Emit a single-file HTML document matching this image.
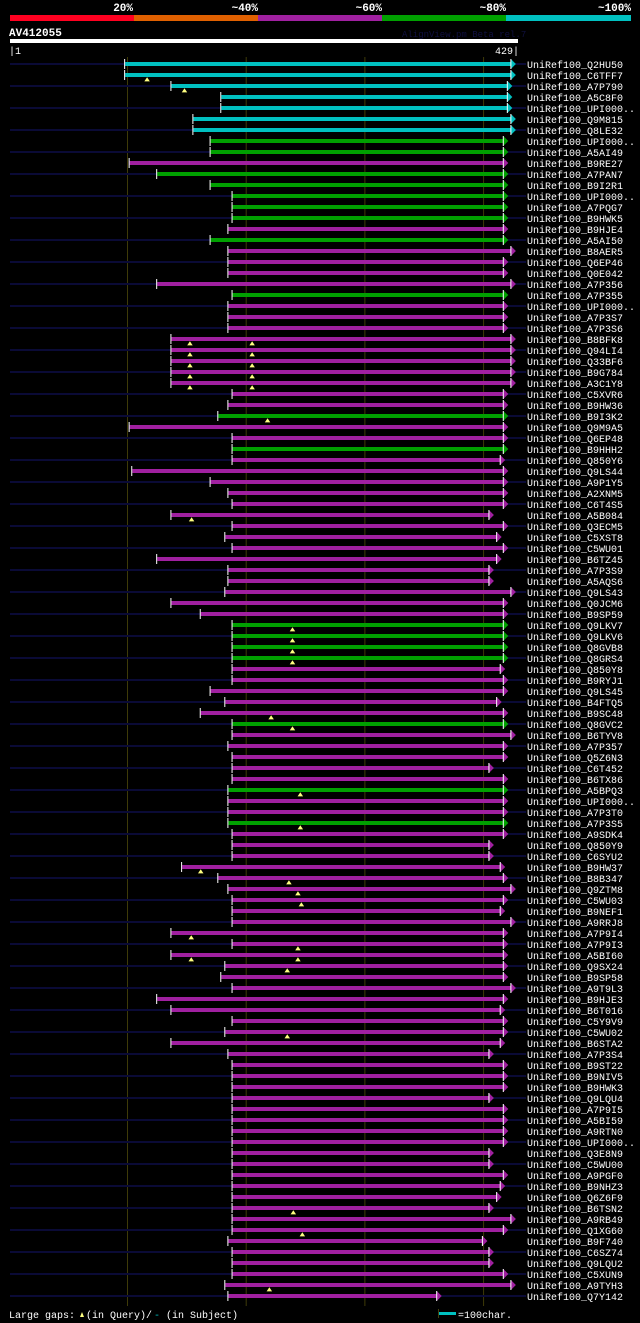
<!DOCTYPE html>
<html><head><meta charset="utf-8"><style>
html,body{margin:0;padding:0;background:#000;}
svg{display:block;}
text{font-family:"Liberation Mono","DejaVu Sans Mono",monospace;}
</style></head><body>
<svg id="chart" width="640" height="1323" viewBox="0 0 640 1323" xmlns="http://www.w3.org/2000/svg">
<rect x="0" y="0" width="640" height="1323" fill="#000"/>
<g>
<rect x="10" y="15" width="124" height="6" fill="#ff0020"/>
<rect x="134" y="15" width="124" height="6" fill="#e06000"/>
<rect x="258" y="15" width="124" height="6" fill="#a020a0"/>
<rect x="382" y="15" width="124" height="6" fill="#00a000"/>
<rect x="506" y="15" width="125" height="6" fill="#00c0c0"/>
<text x="133" y="11" fill="#fff" font-size="11" font-weight="bold" text-anchor="end">20%</text>
<text x="258" y="11" fill="#fff" font-size="11" font-weight="bold" text-anchor="end">~40%</text>
<text x="382" y="11" fill="#fff" font-size="11" font-weight="bold" text-anchor="end">~60%</text>
<text x="506" y="11" fill="#fff" font-size="11" font-weight="bold" text-anchor="end">~80%</text>
<text x="631" y="11" fill="#fff" font-size="11" font-weight="bold" text-anchor="end">~100%</text>
</g>
<text x="9" y="36" fill="#fff" font-size="11" font-weight="bold">AV412055</text>
<text x="402" y="37" fill="#101040" font-size="9">AlignView.pm Beta rel.7</text>
<rect x="10" y="39" width="508" height="4" fill="#fff"/>
<text x="9" y="54" fill="#fff" font-size="10">|1</text>
<text x="519" y="54" fill="#fff" font-size="10" text-anchor="end">429|</text>
<g id="grid"></g>
<g id="rows"></g>
<g>
<text x="9" y="1318" fill="#fff" font-size="10">Large gaps:</text>
<polygon points="80,1317 82,1312 84,1317" fill="#ffff80"/>
<text x="86" y="1318" fill="#fff" font-size="10">(in Query)/</text>
<text x="154" y="1318" fill="#00c0c0" font-size="10">-</text>
<text x="166" y="1318" fill="#fff" font-size="10">(in Subject)</text>
<rect x="439" y="1312" width="17" height="3" fill="#00c0c0"/>
<rect x="438" y="1309" width="1" height="9" fill="#404010"/>
<text x="458" y="1318" fill="#fff" font-size="10">=100char.</text>
</g>
</svg>
<script>
const names = ["Q2HU50","C6TFF7","A7P790","A5C8F0","UPI000..","Q9M815","Q8LE32","UPI000..","A5AI49","B9RE27","A7PAN7","B9I2R1","UPI000..","A7PQG7","B9HWK5","B9HJE4","A5AI50","B8AER5","Q6EP46","Q0E042","A7P356","A7P355","UPI000..","A7P3S7","A7P3S6","B8BFK8","Q94LI4","Q33BF6","B9G784","A3C1Y8","C5XVR6","B9HW36","B9I3K2","Q9M9A5","Q6EP48","B9HHH2","Q850Y6","Q9LS44","A9P1Y5","A2XNM5","C6T4S5","A5B084","Q3ECM5","C5XST8","C5WU01","B6TZ45","A7P3S9","A5AQS6","Q9LS43","Q0JCM6","B9SP59","Q9LKV7","Q9LKV6","Q8GVB8","Q8GRS4","Q850Y8","B9RYJ1","Q9LS45","B4FTQ5","B9SC48","Q8GVC2","B6TYV8","A7P357","Q5Z6N3","C6T452","B6TX86","A5BPQ3","UPI000..","A7P3T0","A7P3S5","A9SDK4","Q850Y9","C6SYU2","B9HW37","B8B347","Q9ZTM8","C5WU03","B9NEF1","A9RRJ8","A7P9I4","A7P9I3","A5BI60","Q9SX24","B9SP58","A9T9L3","B9HJE3","B6T016","C5Y9V9","C5WU02","B6STA2","A7P3S4","B9ST22","B9NIV5","B9HWK3","Q9LQU4","A7P9I5","A5BI59","A9RTN0","UPI000..","Q3E8N9","C5WU00","A9PGF0","B9NHZ3","Q6Z6F9","B6TSN2","A9RB49","Q1XG60","B9F740","C6SZ74","Q9LQU2","C5XUN9","A9TYH3","Q7Y142"];
const starts = [98,98,137,179,179,155.5,155.5,170,170,101.8,125,170,188.5,188.5,188.5,185,170,185,185,185,125,188.5,185,185,185,137,137,137,137,137,188.5,185,176.5,101.8,188.5,188.5,188.5,104,170,185,188.5,137,188.5,182.4,188.5,125,185,185,182.4,137,161.7,188.5,188.5,188.5,188.5,188.5,188.5,170,182.4,161.7,188.5,188.5,185,188.5,188.5,188.5,185,185,185,185,188.5,188.5,188.5,146,176.5,185,188.5,188.5,188.5,137,188.5,137,182.4,179,188.5,125,137,188.5,182.4,137,185,188.5,188.5,188.5,188.5,188.5,188.5,188.5,188.5,188.5,188.5,188.5,188.5,188.5,188.5,188.5,188.5,185,188.5,188.5,188.5,182.4,185];
const ends = [423,423,420,420,420,423,423,416.6,416.6,416.6,416.6,416.6,416.6,416.6,416.6,416.6,416.6,423,416.6,416.6,423,416.6,416.6,416.6,416.6,423,423,423,423,423,416.6,416.6,416.6,416.6,416.6,416.6,414,416.6,416.6,416.6,416.6,404.5,416.6,411,416.6,411,404.5,404.5,423,416.6,416.6,416.6,416.6,416.6,416.6,414,416.6,416.6,411,416.6,416.6,423,416.6,416.6,404.5,416.6,416.6,416.6,416.6,416.6,416.6,404.5,404.5,414,416.6,423,416.6,414,423,416.6,416.6,416.6,416.6,416.6,423,416.6,414,416.6,416.6,414,404.5,416.6,416.6,416.6,404.5,416.6,416.6,416.6,416.6,404.5,404.5,416.6,414,411,404.5,423,416.6,399,404.5,404.5,416.6,423,360.5];
const colorCodes = "cccccccggmgggggmgmmmmgmmmmmmmmmmgmmgmmmmmmmmmmmmmmmggggmmmmmgmmmmmgmmgmmmmmmmmmmmmmmmmmmmmmmmmmmmmmmmmmmmmmmmmmmmm";
const markerRows = [2,3,26,26,27,27,28,28,29,29,30,30,33,42,52,53,54,55,60,61,67,70,74,75,76,77,80,81,82,82,83,89,105,107,112];
const markerPos = [116.5,148,152.6,205,152.6,205,152.6,205,152.6,205,152.6,205,218,154,239,239,239,239,221,239,245.6,245.6,161.7,236,243.6,246.5,153.7,243.6,153.7,243.6,234.6,234.6,239.7,247.3,219.5];
const gridTicks = [100,200,300,400];

const palette = {c:"#00c0c0", g:"#00a000", m:"#a020a0"};
const NS = "http://www.w3.org/2000/svg";
function xq(q){ return 10 + (q-1)*508/428; }
function yr(i){ return 64 + 11*i; }
function mk(tag, attrs, parent){ const e=document.createElementNS(NS,tag); for(const k in attrs) e.setAttribute(k,attrs[k]); parent.appendChild(e); return e; }

const grid = document.getElementById("grid");
gridTicks.forEach(t=>{
  const l = mk("line",{x1:xq(t),x2:xq(t),y1:57,y2:1306,stroke:"#3e3a08","stroke-width":1},grid);
  
  
});

const rowsG = document.getElementById("rows");
names.forEach((n,i)=>{
  const y = yr(i);
  const g = mk("g",{},rowsG);
  
  
  if(i%2===0){
    mk("rect",{x:10,y:y-1,width:516,height:2,fill:"#0a0a36"},g);
  }
  const col = palette[colorCodes[i]];
  const x0 = xq(starts[i]), x1 = xq(ends[i]);
  const bar = mk("rect",{x:x0,y:y-2,width:x1-x0,height:4,fill:col},g);
  
  
  mk("polygon",{points:`${x1},${y-5} ${x1+5},${y} ${x1},${y+5}`,fill:col},g);
  mk("rect",{x:x1-0.5,y:y-5,width:1,height:10,fill:"#fff"},g);
  mk("rect",{x:x0-1,y:y-5,width:1,height:10,fill:"#fff"},g);
  const t = mk("text",{x:527,y:y+4,fill:"#fff","font-size":10},g);
  t.textContent = "UniRef100_" + n;
  
  
});

markerRows.forEach((r,k)=>{
  const y = yr(r-1), x = xq(markerPos[k]);
  const m = mk("polygon",{points:`${x-2},${y+6} ${x},${y+3} ${x+2},${y+6}`,fill:"#ffff80",stroke:"#ffff80","stroke-width":0.8},rowsG);
  
  
});
</script>
</body></html>
